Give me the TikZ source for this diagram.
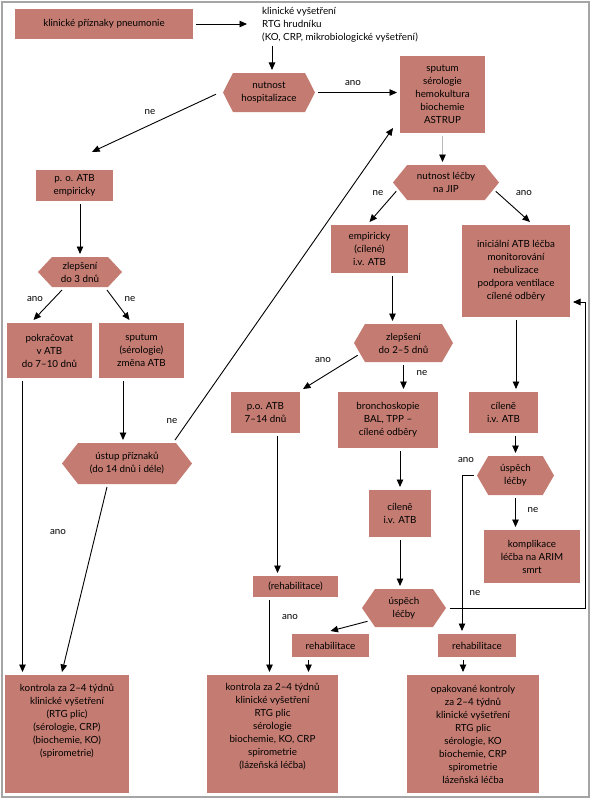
\documentclass[tikz,border=0pt]{standalone}
\usepackage{fontspec}
\setmainfont{Lato}
\usetikzlibrary{shapes.symbols, arrows.meta, calc}
\definecolor{boxfill}{RGB}{196,124,114}
\definecolor{framegray}{RGB}{165,165,165}
\tikzstyle{arrow} = [line width=0.9pt,-{Triangle[length=7.5pt,width=6.5pt]}]
\tikzstyle{greyarrow} = [line width=0.9pt,gray!55,-{Triangle[length=7.5pt,width=6.5pt,color=black]}]
\tikzstyle{process} = [rectangle, fill=boxfill, align=center, inner sep=2pt, outer sep=3pt]
\tikzstyle{decision} = [signal, signal to=west and east, signal pointer angle=110, fill=boxfill, align=center, inner sep=1pt, outer sep=3pt]
\tikzstyle{answer} = [inner sep=0pt]

\begin{document}
\begin{tikzpicture}[x=1pt, y=-1pt, font=\fontsize{9.8}{13}\selectfont]
\useasboundingbox (0,0) rectangle (591,800);
\draw [framegray, line width=1.5pt] (2,2) rectangle (589,797);

% left part
\node (sympt) [process, minimum width=178pt, minimum height=30pt] at (104,24) {klinické příznaky pneumonie};
\node (exam) [anchor=west, align=left, inner sep=3pt] at (259,25) {klinické vyšetření\\RTG hrudníku\\(KO, CRP, mikrobiologické vyšetření)};
\node (hosp) [decision, minimum width=92pt, minimum height=39pt, signal pointer angle=126] at (269,92.5) {nutnost\\hospitalizace};
\node (poatb) [process, minimum width=77pt, minimum height=31pt] at (74.5,185.5) {p. o. ATB\\empiricky};
\node (zlep3) [decision, minimum width=84pt, minimum height=30pt, signal pointer angle=94] at (80,272) {zlepšení\\do 3 dnů};
\node (pokr) [process, minimum width=85pt, minimum height=55pt] at (49.5,350.5) {pokračovat\\v ATB\\do 7–10 dnů};
\node (sput2) [process, minimum width=85pt, minimum height=55pt] at (141.5,350.5) {sputum\\(sérologie)\\změna ATB};
\node (ustup) [decision, minimum width=130pt, minimum height=41pt, signal pointer angle=104] at (127,463.5) {ústup příznaků\\(do 14 dnů i déle)};
\node (konL) [process, minimum width=124pt, minimum height=118pt, text depth=28pt] at (67,734) {kontrola za 2–4 týdnů\\klinické vyšetření\\(RTG plic)\\(sérologie, CRP)\\(biochemie, KO)\\(spirometrie)};

% middle part
\node (sputum) [process, minimum width=85pt, minimum height=77pt] at (442.5,94.5) {sputum\\sérologie\\hemokultura\\biochemie\\ASTRUP};
\node (jip) [decision, minimum width=106pt, minimum height=35pt, signal pointer angle=102] at (446,182.5) {nutnost léčby\\na JIP};
\node (ivemp) [process, minimum width=77pt, minimum height=48pt] at (369.5,249) {empiricky\\(cílené)\\i.v. ATB};
\node (zlep25) [decision, minimum width=99pt, minimum height=38pt, signal pointer angle=120] at (403.5,343) {zlepšení\\do 2–5 dnů};
\node (poatb2) [process, minimum width=69pt, minimum height=41pt] at (265.5,412.5) {p.o. ATB\\7–14 dnů};
\node (bronch) [process, minimum width=100pt, minimum height=56pt] at (388,420) {bronchoskopie\\BAL, TPP –\\cílené odběry};
\node (cil1) [process, minimum width=62pt, minimum height=47pt] at (400,513.5) {cíleně\\i.v. ATB};
\node (usp1) [decision, minimum width=84pt, minimum height=38pt, signal pointer angle=111] at (404,608) {úspěch\\léčby};
\node (rehab1) [process, minimum width=85pt, minimum height=21pt] at (295.5,586.5) {(rehabilitace)};
\node (rehab2) [process, minimum width=77pt, minimum height=23pt] at (330.5,645.5) {rehabilitace};
\node (konM) [process, minimum width=131pt, minimum height=118pt, text depth=16pt] at (272.5,734) {kontrola za 2–4 týdnů\\klinické vyšetření\\RTG plic\\sérologie\\biochemie, KO, CRP\\spirometrie\\(lázeňská léčba)};

% right part
\node (init) [process, minimum width=108pt, minimum height=92pt] at (516,271) {iniciální ATB léčba\\monitorování\\nebulizace\\podpora ventilace\\cílené odběry};
\node (cil2) [process, minimum width=69pt, minimum height=41pt] at (503.5,412.5) {cíleně\\i.v. ATB};
\node (usp2) [decision, minimum width=77pt, minimum height=39pt, signal pointer angle=120] at (515.5,475.5) {úspěch\\léčby};
\node (kompl) [process, minimum width=96pt, minimum height=53pt] at (532,556.5) {komplikace\\léčba na ARIM\\smrt};
\node (rehab3) [process, minimum width=78pt, minimum height=23pt] at (477,645.5) {rehabilitace};
\node (opak) [process, minimum width=132pt, minimum height=118pt] at (473,734) {opakované kontroly\\za 2–4 týdnů\\klinické vyšetření\\RTG plic\\sérologie, KO\\biochemie, CRP\\spirometrie\\lázeňská léčba};

% connectors
\draw [arrow, shorten >=12pt] (sympt.east) -- (sympt.east -| exam.west);
\draw [arrow] ([xshift=3pt]hosp.north |- exam.south) -- ([xshift=3pt]hosp.north);
\draw [arrow] (hosp.east) -- (hosp.east -| sputum.west);
\node (lhospano) [answer] at (353,83) {ano};
\draw [arrow, shorten <=4pt, shorten >=36pt] (hosp.west) -- ([xshift=-15pt]poatb.north);
\node (lhospne) [answer] at (150,112) {ne};

\draw [greyarrow] (sputum.south) -- (sputum.south |- jip.north);
\draw [arrow] (jip.190) -- (ivemp.north);
\node (ljipne) [answer] at (378,193) {ne};
\draw [arrow] (jip.-10) -- ([xshift=14pt]init.north);
\node (ljipano) [answer] at (524,193) {ano};

\draw [arrow] (zlep3.north |- poatb.south) -- (zlep3.north);
\draw [arrow] ([xshift=-18pt]zlep3.south) -- ([xshift=-16pt]pokr.north);
\node (lzlep3ano) [answer] at (35,299) {ano};
\draw [arrow] ([xshift=27pt]zlep3.south) -- ([xshift=-12pt]sput2.north);
\node (lzlep3ne) [answer] at (130,299) {ne};
\draw [arrow] ([xshift=-27pt]pokr.south) -- ([xshift=-27pt]pokr.south |- konL.north);
\draw [arrow] ([xshift=-4pt]ustup.north |- sput2.south) -- ([xshift=-4pt]ustup.north);
\draw [arrow] ([xshift=48pt]ustup.north) -- ([xshift=-4pt,yshift=8pt]sputum.south west);
\node (lustupne) [answer] at (172,421) {ne};
\draw [arrow] ([xshift=-20pt]ustup.south) -- ([xshift=-5pt]konL.north);
\node (lustupano) [answer] at (58,532) {ano};

\draw [arrow] ([xshift=-11pt]zlep25.north |- ivemp.south) -- ([xshift=-11pt]zlep25.north);
\draw [arrow] (zlep25.195) -- (poatb2.north east);
\node (lzlepano) [answer] at (323,360) {ano};
\draw [arrow] (zlep25.south) -- (zlep25.south |- bronch.north);
\node (lzlepne) [answer] at (422,373) {ne};
\draw [arrow] ([xshift=12pt]poatb2.south) -- ([xshift=12pt]poatb2.south |- rehab1.north);
\draw [arrow] (cil1.north |- bronch.south) -- (cil1.north);
\draw [arrow] (cil1.south) -- (cil1.south |- usp1.north);
\draw [arrow] (usp1.200) -- (rehab2.north);
\node (luspano) [answer] at (290,617) {ano};
\draw [arrow] (usp1.east) -| ([xshift=12pt,yshift=-31pt]init.east) -- ([yshift=-31pt]init.east);
\node (luspne) [answer] at (475,593) {ne};
\draw [arrow] ([xshift=-26pt]rehab1.south) -- ([xshift=-26pt]rehab1.south |- konM.north);
\draw [arrow] ([xshift=-22pt]rehab2.south) -- ([xshift=-22pt]rehab2.south |- konM.north);

\draw [arrow] (init.south) -- (init.south |- cil2.north);
\draw [arrow] (usp2.north |- cil2.south) -- (usp2.north);
\draw [arrow] (usp2.south) -- (usp2.south |- kompl.north);
\node (lusp2ne) [answer] at (533,510) {ne};
\draw [arrow] (usp2.west) -| ([xshift=-15pt]rehab3.north);
\node (lusp2ano) [answer] at (466,460) {ano};
\draw [arrow] ([xshift=-14pt]rehab3.south) -- ([xshift=-14pt]rehab3.south |- opak.north);
\end{tikzpicture}
\end{document}
